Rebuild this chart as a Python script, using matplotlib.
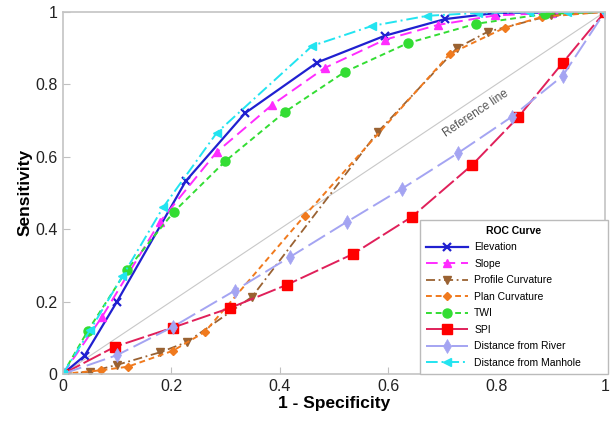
import matplotlib
matplotlib.use("Agg")
from matplotlib import pyplot as plt

plt.rcParams["font.family"] = ["Liberation Sans", "DejaVu Sans"]

# ROC curve points (1 - specificity, sensitivity) per factor
elev_x = [0, 0.04, 0.10, 0.227, 0.336, 0.469, 0.594, 0.705, 0.80, 0.905, 1]
elev_y = [0, 0.05, 0.20, 0.533, 0.72, 0.86, 0.934, 0.98, 0.997, 0.998, 1]

slope_x = [0, 0.072, 0.179, 0.284, 0.386, 0.483, 0.594, 0.692, 0.797, 0.90, 1]
slope_y = [0, 0.157, 0.42, 0.613, 0.743, 0.845, 0.923, 0.964, 0.99, 0.997, 1]

prof_x = [0, 0.05, 0.10, 0.18, 0.229, 0.349, 0.581, 0.727, 0.784, 0.90, 1]
prof_y = [0, 0.006, 0.025, 0.06, 0.088, 0.213, 0.668, 0.90, 0.945, 0.99, 1]

plan_x = [0, 0.07, 0.12, 0.203, 0.262, 0.446, 0.714, 0.815, 0.884, 1]
plan_y = [0, 0.01, 0.02, 0.064, 0.116, 0.437, 0.884, 0.956, 0.986, 1]

twi_x = [0, 0.046, 0.118, 0.205, 0.30, 0.41, 0.52, 0.637, 0.762, 0.889, 1]
twi_y = [0, 0.119, 0.287, 0.448, 0.588, 0.724, 0.834, 0.914, 0.967, 0.994, 1]

spi_x = [0, 0.096, 0.203, 0.308, 0.413, 0.535, 0.644, 0.755, 0.84, 0.922, 1]
spi_y = [0, 0.075, 0.128, 0.182, 0.246, 0.331, 0.434, 0.577, 0.709, 0.859, 1]

river_x = [0, 0.10, 0.203, 0.317, 0.419, 0.524, 0.625, 0.729, 0.828, 0.922, 1]
river_y = [0, 0.052, 0.13, 0.23, 0.323, 0.42, 0.511, 0.61, 0.71, 0.823, 1]

manh_x = [0, 0.05, 0.11, 0.185, 0.284, 0.46, 0.57, 0.672, 0.766, 0.86, 0.93, 1]
manh_y = [0, 0.12, 0.27, 0.46, 0.666, 0.906, 0.961, 0.989, 0.997, 0.999, 1.0, 1]

fig = plt.figure(figsize=(6.16, 4.23), dpi=100)
ax = fig.add_axes([0.102, 0.116, 0.880, 0.856])

ax.plot([0, 1], [0, 1], color="#c8c8c8", lw=0.8, zorder=1)
ax.text(0.762, 0.718, "Reference line", rotation=33.7, ha="center", va="center",
        fontsize=8.5, color="#555555")

ax.plot(elev_x, elev_y, color="#2020d0", ls="-", lw=1.6, marker="x", ms=6, mew=1.6,
        label="Elevation")
ax.plot(slope_x, slope_y, color="#ff2cff", ls=(0, (6, 3)), lw=1.4, marker="^", ms=5.5,
        label="Slope")
ax.plot(prof_x, prof_y, color="#9a6232", ls=(0, (5, 2, 1, 2)), lw=1.3, marker="v", ms=5.5,
        label="Profile Curvature")
ax.plot(plan_x, plan_y, color="#f07a1e", ls=(0, (3, 2)), lw=1.4, marker="D", ms=4.5,
        label="Plan Curvature")
ax.plot(twi_x, twi_y, color="#33dd33", ls=(0, (3, 2)), lw=1.4, marker="o", ms=6.5,
        label="TWI")
ax.plot(spi_x, spi_y, color="#e0205a", ls=(0, (10, 2)), lw=1.4, marker="s", ms=6.5,
        mfc="#ff0000", mec="#ff0000", label="SPI")
ax.plot(river_x, river_y, color="#a4a4f2", ls=(0, (10, 3)), lw=1.4, marker="d", ms=7.5,
        mew=0.5, label="Distance from River")
ax.plot(manh_x, manh_y, color="#22e4f0", ls=(0, (6, 2, 1, 2)), lw=1.4, marker="<", ms=5.5,
        label="Distance from Manhole")

ax.set_xlim(0, 1)
ax.set_ylim(0, 1)
ticks = [0, 0.2, 0.4, 0.6, 0.8, 1]
tick_labels = ["0", "0.2", "0.4", "0.6", "0.8", "1"]
ax.set_xticks(ticks)
ax.set_xticklabels(tick_labels)
ax.set_yticks(ticks)
ax.set_yticklabels(tick_labels)
ax.tick_params(direction="in", length=5, color="#c0c0c0", labelsize=11.5,
               labelcolor="#222222", pad=4)
for s in ax.spines.values():
    s.set_color("#c4c4c4")
    s.set_linewidth(1.2)

ax.set_xlabel("1 - Specificity", fontsize=12.5, fontweight="bold", labelpad=1)
ax.set_ylabel("Sensitivity", fontsize=12.5, fontweight="bold", labelpad=2)

leg = ax.legend(loc="lower left", bbox_to_anchor=(0.682, 0.116, 0.305, 0.38),
                bbox_transform=fig.transFigure, mode="expand",
                title="ROC Curve", fontsize=7.5, title_fontproperties={"weight": "bold", "size": 7.5},
                fancybox=False, edgecolor="#bbbbbb", framealpha=1, handlelength=4,
                labelspacing=0.62, borderaxespad=0, handletextpad=0.6, borderpad=0.6)
leg.get_frame().set_linewidth(1.0)

fig.savefig("out.png", dpi=100)
